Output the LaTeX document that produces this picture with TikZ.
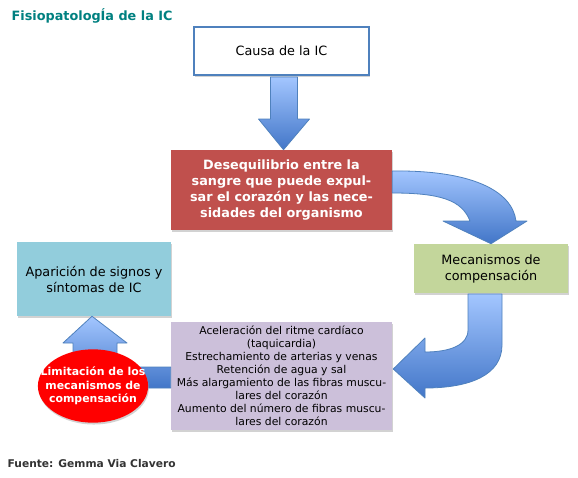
\documentclass[tikz,border=0pt]{standalone}
\usepackage{fontspec}
\setmainfont{DejaVu Sans}
\usetikzlibrary{shapes.geometric,shadows,calc}

\definecolor{titulo}{RGB}{0,128,128}
\definecolor{borde}{RGB}{79,129,189}
\definecolor{rojo}{RGB}{192,80,77}
\definecolor{verde}{RGB}{195,214,155}
\definecolor{cian}{RGB}{146,205,220}
\definecolor{lila}{RGB}{204,192,218}
\definecolor{flechaclara}{RGB}{163,198,255}
\definecolor{flechaosc}{RGB}{66,118,200}

\tikzset{
  caja/.style={rectangle,inner sep=2pt,align=center,
    drop shadow={shadow xshift=0.6pt,shadow yshift=-1.4pt,fill=black!35,opacity=.5}},
  flecha/.style={draw=borde,line width=0.6pt,line join=round,
    top color=flechaclara,bottom color=flechaosc}
}

\begin{document}
\begin{tikzpicture}[x=0.75pt,y=-0.75pt]

\useasboundingbox[fill=white] (0,0) rectangle (578,478);

\node[anchor=base west,text=titulo,font=\fontsize{9.6}{11}\selectfont\bfseries] (tit) at (7,21) {FisiopatologÍa de la IC};

\node[caja,draw=borde,line width=1.5pt,fill=white,minimum width=131.25pt,minimum height=36pt,font=\fontsize{9.6}{12}\selectfont] (causa) at (281.5,51) {Causa de la IC};

\node[caja,fill=rojo,text=white,minimum width=165.75pt,minimum height=60pt,font=\fontsize{9.6}{12}\selectfont\bfseries] (deseq) at (281.5,190) {Desequilibrio entre la\\sangre que puede expul-\\sar el corazón y las nece-\\sidades del organismo};

\node[caja,fill=verde,minimum width=115.5pt,minimum height=36.75pt,font=\fontsize{9.6}{12}\selectfont] (meca) at (491,268.5) {Mecanismos de\\compensación};

\node[caja,fill=cian,minimum width=115.5pt,minimum height=55.5pt,font=\fontsize{9.6}{12}\selectfont] (apar) at (94,279) {Aparición de signos y\\síntomas de IC};

\node[caja,fill=lila,minimum width=165.75pt,minimum height=81pt,font=\fontsize{8.1}{9.75}\selectfont] (acel) at (281.5,376) {Aceleración del ritme cardíaco\\(taquicardia)\\Estrechamiento de arterias y venas\\Retención de agua y sal\\Más alargamiento de las fibras muscu-\\lares del corazón\\Aumento del número de fibras muscu-\\lares del corazón};

%causa -> desequilibrio
\path[flecha] ($(causa.south)+(-11,1)$) -- ++(27,0) -- ++(0,42) -- ++(12,0) -- ($(deseq.north)+(2,0)$) -- ($(causa.south)+(-23,43)$) -- ++(12,0) -- cycle;

%desequilibrio -> mecanismos
\path[flecha] ($(deseq.east)+(0,-19)$) .. controls (470,170) and (512,190) .. (516,221) -- (527,221) -- (meca.north) -- (443,221) -- (470,221) .. controls (462,200) and (440,193) .. ($(deseq.east)+(0,3)$) -- cycle;

%mecanismos -> aceleracion
\path[flecha] (502,294) -- (502,345) .. controls (502,375) and (470,388) .. (425,388) -- (425,398) -- ($(acel.east)+(1,-7)$) -- (425,338) -- (425,352) .. controls (450,352) and (468,345) .. (468,330) -- (468,294) -- cycle;

%aceleracion -> aparicion
\path[flecha] ($(acel.west)+(0,-9)$) -- (117,367) -- (117,343) -- (127,343) -- ($(apar.south)+(-2,0)$) -- (63,343) -- (73,343) -- (73,388) -- ($(acel.west)+(0,12)$) -- cycle;

\node[ellipse,fill=red,text=white,minimum height=55pt,inner xsep=-10pt,inner ysep=0pt,align=center,font=\fontsize{8.2}{10.2}\selectfont\bfseries,
  drop shadow={shadow xshift=0.6pt,shadow yshift=-1.4pt,fill=black!35,opacity=.5}] (limit) at (93,386) {Limitación de los\\mecanismos de\\compensación};

\node[anchor=base west,text=black!80,font=\fontsize{8}{10}\selectfont\bfseries] (fuente) at (3,467) {Fuente: Gemma Via Clavero};

\end{tikzpicture}
\end{document}
